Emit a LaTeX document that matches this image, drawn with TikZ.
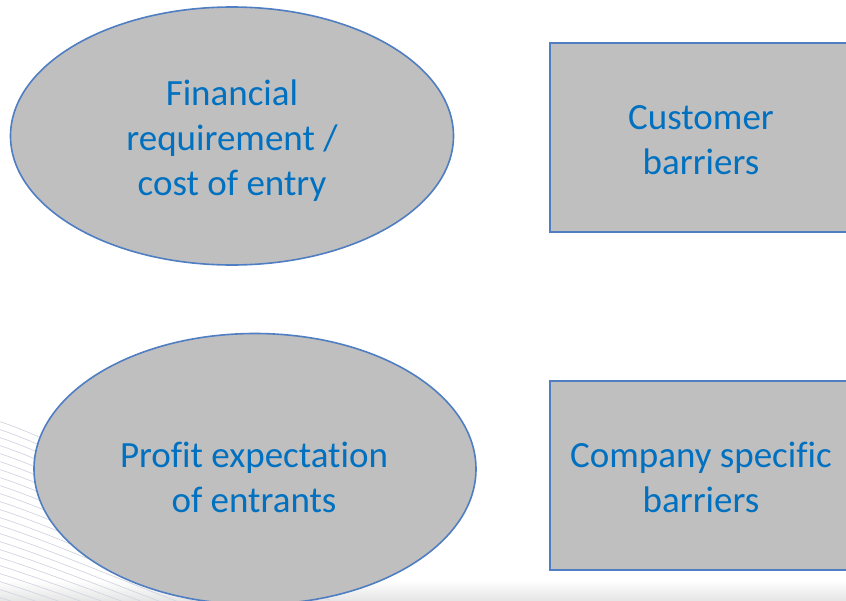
\documentclass[tikz,border=0pt]{standalone}
\usepackage{fontspec}
\setmainfont[Ligatures={NoCommon}]{Carlito}
\usetikzlibrary{shapes.geometric}
\definecolor{shapefill}{HTML}{BFBFBF}
\definecolor{shapeline}{HTML}{4F7EC2}
\definecolor{labelblue}{HTML}{0070C0}
\definecolor{swoosh}{HTML}{D2D6E0}
\definecolor{band}{HTML}{E6E6E6}
\tikzset{
  oval/.style={ellipse, draw=shapeline, line width=1.6pt, fill=shapefill,
    minimum width=#1, inner sep=0pt},
  panel/.style={rectangle, draw=shapeline, line width=1.6pt, fill=shapefill,
    minimum width=310pt, minimum height=189pt, inner sep=0pt, anchor=north west},
  label/.style={text=labelblue, font=\fontsize{37}{45}\selectfont, align=center},
}
\begin{document}
\begin{tikzpicture}[x=1pt,y=-1pt]
  \useasboundingbox (0,0) rectangle (846,600);
  \clip (0,0) rectangle (846,600);
  \fill[white] (0,0) rectangle (846,600);
  % soft band along the bottom edge
  \shade[top color=white, bottom color=band] (0,580) rectangle (846,600);
  % fan of thin background lines at the lower left
  \foreach \k in {0,...,24}{
    \draw[swoosh, line width=0.7pt]
      (-5,{420+\k*8}) .. controls (90,{450+\k*8}) and (200,{535+\k*6}) .. (330,{580+\k*5});
  }
  % shapes
  \node[oval=443pt, minimum height=258pt] (fin) at (232,136) {};
  \node[oval=442pt, minimum height=271pt] (profit) at (255,469) {};
  \node[panel] (cust) at (549,42) {};
  \node[panel] (comp) at (549,380) {};
  % labels
  \node[label] (finlab) at (232,141) {Financial\\requirement /\\cost of entry};
  \node[label] (custlab) at (701,140) {Customer\\barriers};
  \node[label] (proflab) at (254,477) {Profit expectation\\of entrants};
  \node[label] (complab) at (701,477) {Company specific\\barriers};
\end{tikzpicture}
\end{document}
